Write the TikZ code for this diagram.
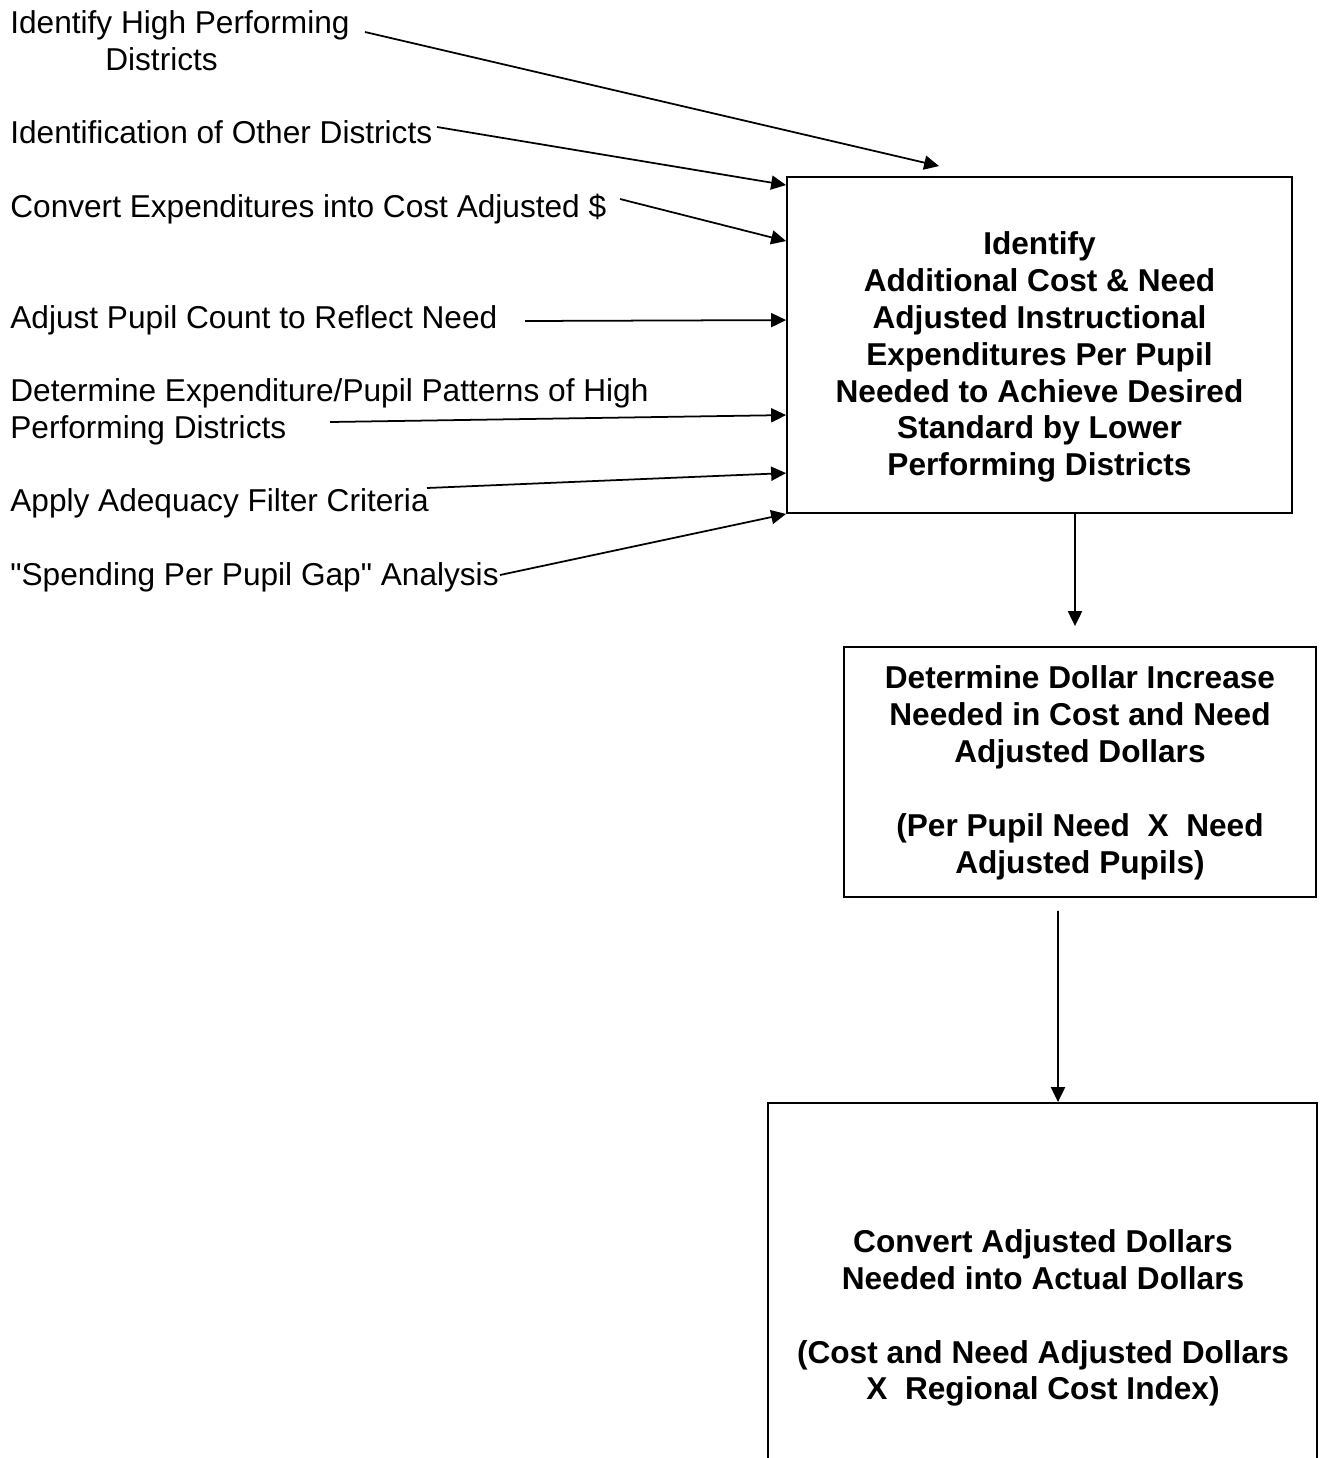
\documentclass[tikz,border=0pt]{standalone}
\usepackage{fontspec}
\setmainfont{Liberation Sans}
\usetikzlibrary{calc,arrows.meta}
\tikzset{
  box/.style={draw=black, line width=1.1pt, inner sep=0pt},
  boxtxt/.style={font=\fontsize{18}{21}\selectfont\bfseries, align=center, inner sep=0pt},
  lab/.style={font=\fontsize{18}{21}\selectfont, align=left, anchor=base west, inner sep=0pt},
  arr/.style={draw=black, line width=1pt, -{Triangle[length=8.5pt, width=8pt]}},
}
\begin{document}
\begin{tikzpicture}[x=0.02cm, y=-0.02cm]
  \fill[white] (0,0) rectangle (1323,1458);
  \useasboundingbox (0,0) rectangle (1323,1458);
  \clip (0,0) rectangle (1323,1458);
  % boxes
  \node[box, minimum width=10.1cm, minimum height=6.72cm] (main) at (1039.5,345) {};
  \node[box, minimum width=9.44cm, minimum height=5cm] (dollar) at (1080,772) {};
  \node[box, minimum width=10.98cm, minimum height=7.94cm] (actual) at (1042.5,1301.5) {};
  \node[boxtxt] (maintxt) at ($(main.center)+(0,12)$) {Identify\\Additional Cost \& Need\\Adjusted Instructional\\Expenditures Per Pupil\\Needed to Achieve Desired\\Standard by Lower\\Performing Districts};
  \node[boxtxt] (dollartxt) at ($(dollar.center)+(0,1)$) {Determine Dollar Increase\\Needed in Cost and Need\\Adjusted Dollars\\[21pt](Per Pupil Need\ \ X\ \ Need\\Adjusted Pupils)};
  \node[boxtxt] (actualtxt) at (1043,1318) {Convert Adjusted Dollars\\Needed into Actual Dollars\\[21pt](Cost and Need Adjusted Dollars\\X\ \ Regional Cost Index)};
  % inputs
  \node[lab] (t1) at (10,70) {Identify High Performing\\\hspace*{1.9cm}Districts};
  \node[lab] (t2) at (10,143) {Identification of Other Districts};
  \node[lab] (t3) at (10,217) {Convert Expenditures into Cost Adjusted \$};
  \node[lab] (t4) at (10,328) {Adjust Pupil Count to Reflect Need};
  \node[lab] (t5) at (10,438) {Determine Expenditure/Pupil Patterns of High\\Performing Districts};
  \node[lab] (t6) at (10,511) {Apply Adequacy Filter Criteria};
  \node[lab] (t7) at (10,585) {\textquotedbl Spending Per Pupil Gap\textquotedbl\ Analysis};
  \coordinate (s1) at (365,32);
  \coordinate (s2) at (437,127);
  \coordinate (s3) at (620,199);
  \coordinate (s4) at (525,321);
  \coordinate (s5) at (330,422);
  \coordinate (s6) at (427,488);
  \coordinate (s7) at (500,575);
  % arrows into the main box
  \draw[arr] (s1) -- ($(main.north west)+(153,-10)$);
  \draw[arr] (s2) -- ($(main.north west)+(0,9)$);
  \draw[arr] (s3) -- ($(main.north west)+(0,65)$);
  \draw[arr] (s4) -- ($(main.north west)+(0,144)$);
  \draw[arr] (s5) -- ($(main.north west)+(0,239)$);
  \draw[arr] (s6) -- ($(main.north west)+(0,297)$);
  \draw[arr] (s7) -- (main.south west);
  % downward flow
  \draw[arr] ($(main.south)+(35.5,0)$) -- ($(dollar.north)+(-5,-20)$);
  \draw[arr] ($(dollar.south)+(-22,13)$) -- ($(actual.north)+(15.5,0)$);
\end{tikzpicture}
\end{document}
